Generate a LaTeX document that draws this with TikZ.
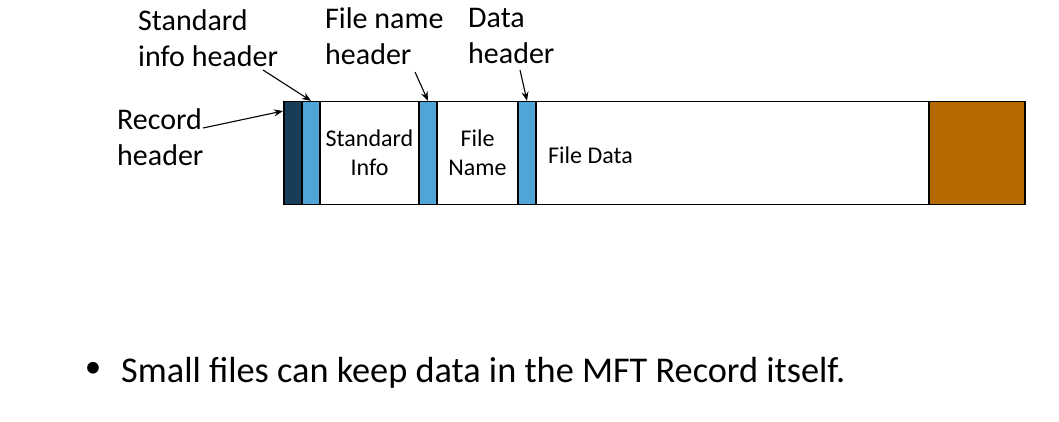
\documentclass[tikz,border=0pt]{standalone}
\usepackage{fontspec}
\setmainfont{Carlito}
\usetikzlibrary{arrows.meta,positioning}
\definecolor{recdark}{RGB}{24,61,88}
\definecolor{hdrblue}{RGB}{79,164,216}
\definecolor{tailbrown}{RGB}{180,106,0}

\begin{document}
\begin{tikzpicture}[x=1pt,y=-1pt,
  seg/.style={draw, line width=1.4pt, minimum height=103pt, inner sep=0pt, anchor=center},
  lbl/.style={align=left, inner sep=0pt, anchor=base west, font=\fontsize{30}{36}\selectfont},
  inner/.style={align=center, inner sep=0pt, font=\fontsize{24}{29}\selectfont},
  pointer/.style={-{Stealth[length=9pt,width=7pt]}, line width=1.1pt}]
  \useasboundingbox (0,0) rectangle (1059,421);
  % the record bar
  \node[seg, fill=recdark, minimum width=18pt] (rh) at (293,153) {};
  \node[seg, fill=hdrblue, minimum width=18pt] (sih) at (311,153) {};
  \node[seg, fill=white, minimum width=99pt] (si) at (369.5,153) {};
  \node[seg, fill=hdrblue, minimum width=18pt] (fnh) at (428,153) {};
  \node[seg, fill=white, minimum width=81pt] (fn) at (477.5,153) {};
  \node[seg, fill=hdrblue, minimum width=18pt] (dh) at (527,153) {};
  \node[seg, fill=white, minimum width=393pt] (fd) at (732.5,153) {};
  \node[seg, fill=tailbrown, minimum width=96pt] (tail) at (977,153) {};
  \node[inner] (sitext) at (si) {Standard\\Info};
  \node[inner] (fntext) at (fn) {File\\Name};
  \node[inner, anchor=west] (fdtext) at (548,155) {File Data};
  % labels (anchored at the baseline of their last line)
  \node[lbl] (lsih) at (138,66) {Standard\\info header};
  \node[lbl] (lfnh) at (325,64) {File name\\header};
  \node[lbl] (ldh) at (468,63) {Data\\header};
  \node[lbl] (lrh) at (117,165) {Record\\header};
  \coordinate (rhin) at (283,111);
  \draw[pointer] (263,70) -- (sih.north);
  \draw[pointer] (415,72) -- (fnh.north);
  \draw[pointer] (520,70) -- (dh.north);
  \draw[pointer] (203,128) -- (rhin);
  % bullet line
  \node[inner sep=0pt, font=\fontsize{33}{38}\selectfont] (dot) at (93,370) {\textbullet};
  \node[inner sep=0pt, anchor=base west, font=\fontsize{36.3}{40}\selectfont] (note) at (121,382) {Small files can keep data in the MFT Record itself.};
\end{tikzpicture}
\end{document}
